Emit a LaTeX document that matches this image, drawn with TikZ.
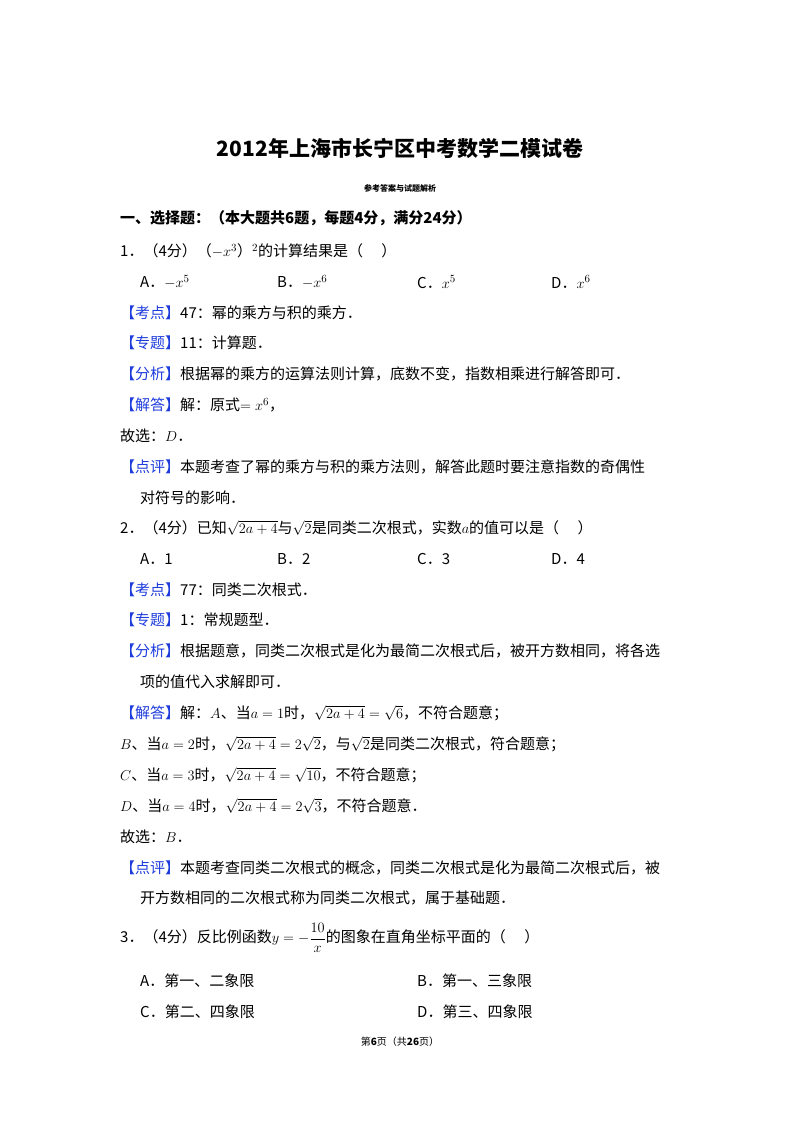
\documentclass[tikz,border=0pt]{standalone}
\usepackage{fontspec}
\setmainfont{Noto Sans CJK SC}
\definecolor{lbl}{RGB}{30,60,220}
\newcommand{\lb}[1]{\textcolor{lbl}{【#1】}}
\begin{document}
\begin{tikzpicture}[x=1pt,y=-1pt,
  t/.style={anchor=west,inner sep=0pt,font=\fontsize{15}{18}\selectfont}]
\useasboundingbox (0,0) rectangle (800,1132);
\node[font=\fontsize{21}{24}\selectfont\bfseries] (title) at (400,148) {2012年上海市长宁区中考数学二模试卷};
\node[font=\fontsize{8}{10}\selectfont\bfseries] (sub) at (400,188) {参考答案与试题解析};
\node[t,font=\fontsize{15}{18}\selectfont\bfseries] (s1) at (120,218) {一、选择题：（本大题共6题，每题4分，满分24分）};
\node[t] (q1) at (120,251) {1．（4分）（$-x^3$）$^2$的计算结果是（\quad\ ）};
\node[t] (q1a) at (140,282) {A．$-x^5$};
\node[t] (q1b) at (277,282) {B．$-x^6$};
\node[t] (q1c) at (417,282) {C．$x^5$};
\node[t] (q1d) at (551,282) {D．$x^6$};
\node[t] (k1) at (120,313) {\lb{考点}47：幂的乘方与积的乘方．};
\node[t] (z1) at (120,343) {\lb{专题}11：计算题．};
\node[t] (f1) at (120,374) {\lb{分析}根据幂的乘方的运算法则计算，底数不变，指数相乘进行解答即可．};
\node[t] (j1) at (120,405) {\lb{解答}解：原式$=x^6$，};
\node[t] (g1) at (120,436) {故选：$D$．};
\node[t] (p1) at (120,467) {\lb{点评}本题考查了幂的乘方与积的乘方法则，解答此题时要注意指数的奇偶性};
\node[t] (p1b) at (140,498) {对符号的影响．};
\node[t] (q2) at (120,528) {2．（4分）已知$\sqrt{2a+4}$与$\sqrt{2}$是同类二次根式，实数$a$的值可以是（\quad\ ）};
\node[t] (q2a) at (140,559) {A．1};
\node[t] (q2b) at (277,559) {B．2};
\node[t] (q2c) at (417,559) {C．3};
\node[t] (q2d) at (551,559) {D．4};
\node[t] (k2) at (120,590) {\lb{考点}77：同类二次根式．};
\node[t] (z2) at (120,620) {\lb{专题}1：常规题型．};
\node[t] (f2) at (120,651) {\lb{分析}根据题意，同类二次根式是化为最简二次根式后，被开方数相同，将各选};
\node[t] (f2b) at (140,682) {项的值代入求解即可．};
\node[t] (j2) at (120,713) {\lb{解答}解：$A$、当$a=1$时，$\sqrt{2a+4}=\sqrt{6}$，不符合题意；};
\node[t] (j2b) at (120,744) {$B$、当$a=2$时，$\sqrt{2a+4}=2\sqrt{2}$，与$\sqrt{2}$是同类二次根式，符合题意；};
\node[t] (j2c) at (120,775) {$C$、当$a=3$时，$\sqrt{2a+4}=\sqrt{10}$，不符合题意；};
\node[t] (j2d) at (120,806) {$D$、当$a=4$时，$\sqrt{2a+4}=2\sqrt{3}$，不符合题意．};
\node[t] (g2) at (120,837) {故选：$B$．};
\node[t] (p2) at (120,868) {\lb{点评}本题考查同类二次根式的概念，同类二次根式是化为最简二次根式后，被};
\node[t] (p2b) at (140,898) {开方数相同的二次根式称为同类二次根式，属于基础题．};
\node[t] (q3) at (120,938) {3．（4分）反比例函数$y=-{\displaystyle\frac{10}{x}}$的图象在直角坐标平面的（\quad\ ）};
\node[t] (q3a) at (140,981) {A．第一、二象限};
\node[t] (q3b) at (417,981) {B．第一、三象限};
\node[t] (q3c) at (140,1012) {C．第二、四象限};
\node[t] (q3d) at (417,1012) {D．第三、四象限};
\node[font=\fontsize{10}{12}\selectfont] (foot) at (400,1042) {第\textbf{6}页（共\textbf{26}页）};
\end{tikzpicture}
\end{document}
